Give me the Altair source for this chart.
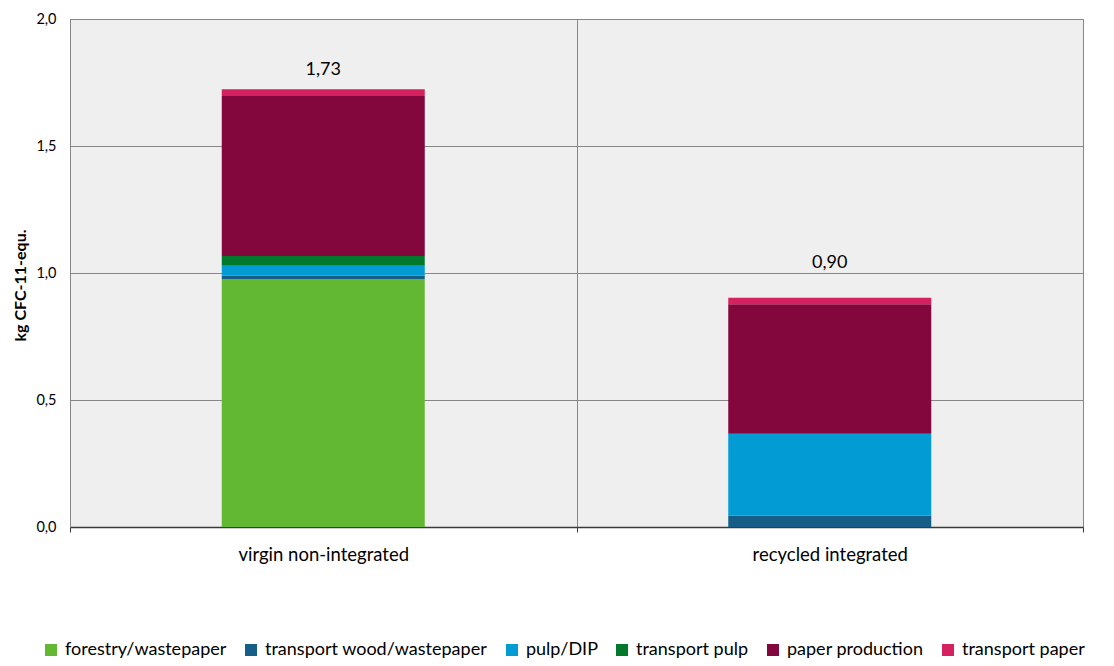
import altair as alt
import pandas as pd

categories = ["virgin non-integrated", "recycled integrated"]
stages = ["forestry/wastepaper", "transport wood/wastepaper", "pulp/DIP",
          "transport pulp", "paper production", "transport paper"]
colors = ["#62b832", "#145e88", "#029bd4", "#00792c", "#83063c", "#d5215f"]
virgin = [0.976, 0.013, 0.040, 0.038, 0.630, 0.026]
recycled = [0.000, 0.045, 0.322, 0.000, 0.510, 0.026]
totals = [1.73, 0.90]
total_labels = ["1,73", "0,90"]

rows = []
for i, s in enumerate(stages):
    rows.append({"cat": categories[0], "stage": s, "order": i, "value": virgin[i]})
    rows.append({"cat": categories[1], "stage": s, "order": i, "value": recycled[i]})
df = pd.DataFrame(rows)
tot = pd.DataFrame({"cat": categories, "total": totals, "label": total_labels})

FONT = "Lato"
GRID = "#878787"

xenc = alt.X("cat:N", sort=categories, title=None,
             scale=alt.Scale(paddingInner=0, paddingOuter=0),
             axis=alt.Axis(labelAngle=0, labelFontSize=18.5, labelFont=FONT, labelColor="#000",
                           labelPadding=13, tickBand="extent", grid=True, gridColor=GRID,
                           domainColor="#3a3a3a", domainWidth=1.5, tickColor="#3a3a3a",
                           tickSize=5, ticks=True))

bars = alt.Chart(df).mark_bar(size=203).encode(
    x=xenc,
    y=alt.Y("value:Q", stack="zero", title="kg CFC-11-equ.",
            scale=alt.Scale(domain=[0, 2], nice=False),
            axis=alt.Axis(values=[0, 0.5, 1.0, 1.5, 2.0],
                          labelExpr="replace(format(datum.value, '.1f'), '.', ',')",
                          labelFontSize=14.5, labelFont=FONT, labelColor="#000", labelPadding=14,
                          ticks=False, gridColor=GRID, domainColor=GRID,
                          titleFont=FONT, titleFontSize=16, titleFontWeight="bold", titleColor="#000",
                          titleX=-50, titleY=266, titleAlign="center", titleBaseline="middle")),
    color=alt.Color("stage:N", sort=stages,
                    scale=alt.Scale(domain=stages, range=colors),
                    legend=alt.Legend(title=None, orient="none", direction="horizontal", columns=6,
                                      legendX=-28, legendY=622, symbolType="square", symbolSize=144,
                                      symbolStrokeWidth=0, labelFontSize=18, labelFont=FONT,
                                      labelColor="#000", columnPadding=15, labelOffset=5,
                                      labelLimit=0)),
    order=alt.Order("order:Q", sort="ascending"),
)

def label_layer(idx, dy):
    return alt.Chart(tot).transform_filter(
        alt.datum.cat == categories[idx]
    ).mark_text(dy=dy, fontSize=18, font=FONT, color="#000", baseline="middle").encode(
        x=alt.X("cat:N", sort=categories),
        y=alt.Y("total:Q"),
        text="label:N",
    )

chart = alt.layer(bars, label_layer(0, -18), label_layer(1, -35)).properties(
    width=1013, height=508,
    autosize=alt.AutoSizeParams(type="none"),
    padding={"left": 62, "top": 11, "right": 22, "bottom": 131},
).configure_view(
    fill="#efefef", stroke=GRID, strokeWidth=1
)

chart.save("out.html", embed_options={"renderer": "svg", "actions": False})
